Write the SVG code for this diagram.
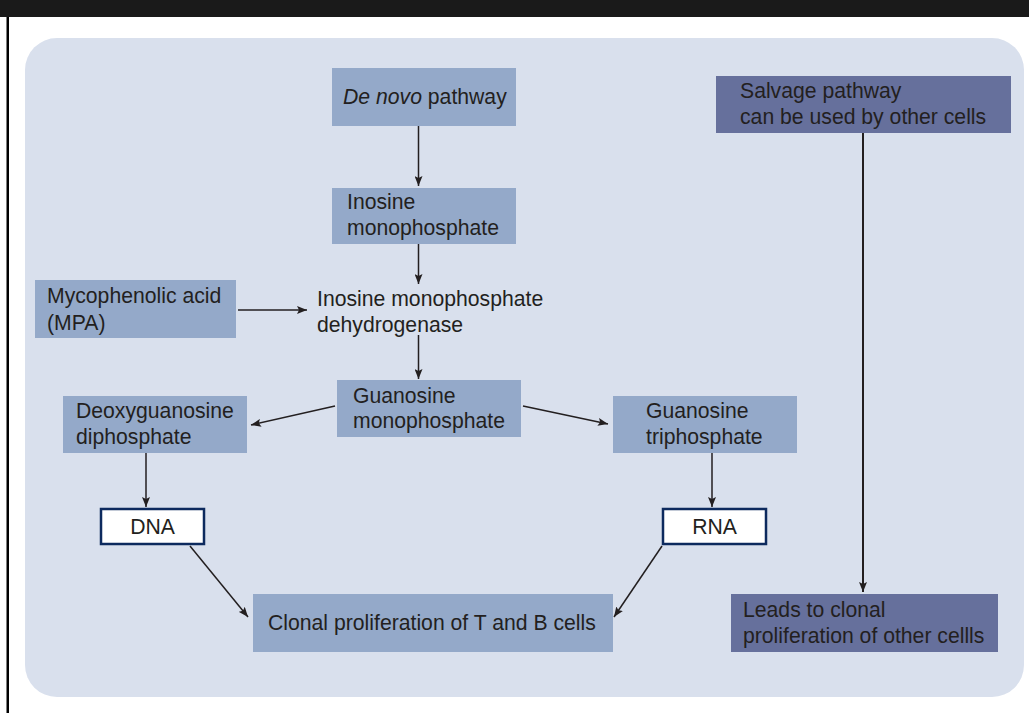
<svg xmlns="http://www.w3.org/2000/svg" width="1029" height="713" viewBox="0 0 1029 713">
<style>
.t{font-family:"Liberation Sans",Arial,sans-serif;font-size:21.2px;fill:#231f20}
.n{fill:#94a9c9}
.s{fill:#66709c}
.w{fill:#ffffff;stroke:#0d2a5e;stroke-width:2.5}
.c{stroke:#231f20;stroke-width:1.5;fill:none;marker-end:url(#ah)}
</style>
<defs>
<marker id="ah" viewBox="0 0 10 8" refX="10" refY="4" markerWidth="10" markerHeight="8" markerUnits="userSpaceOnUse" orient="auto">
<path d="M0,0 L10,4 L0,8 L2,4 Z" fill="#231f20"/>
</marker>
</defs>
<rect x="0" y="0" width="1029" height="713" fill="#ffffff"/>
<rect x="0" y="0" width="1029" height="17" fill="#1a1a1a"/>
<rect x="6.5" y="17" width="2.5" height="696" fill="#000000"/>
<rect x="25" y="38" width="999" height="659" rx="32" ry="32" fill="#d9e0ed"/>

<g id="connectors">
<line class="c" x1="418.5" y1="126" x2="418.5" y2="186"/>
<line class="c" x1="418.5" y1="244" x2="418.5" y2="284"/>
<line class="c" x1="238" y1="310" x2="307" y2="310"/>
<line class="c" x1="418.5" y1="335" x2="418.5" y2="379"/>
<line class="c" x1="335" y1="406" x2="251" y2="425"/>
<line class="c" x1="523" y1="406" x2="608" y2="424"/>
<line class="c" x1="146" y1="453" x2="146" y2="507"/>
<line class="c" x1="712" y1="453" x2="712" y2="507"/>
<line class="c" x1="190" y1="546" x2="248" y2="617"/>
<line class="c" x1="662" y1="546" x2="614" y2="617"/>
<line class="c" x1="863" y1="133" x2="863" y2="592" style="stroke-width:2"/>
</g>

<g id="denovo">
<rect class="n" x="332" y="68" width="184" height="58"/>
<text class="t" x="343" y="104"><tspan font-style="italic">De novo</tspan> pathway</text>
</g>
<g id="imp">
<rect class="n" x="332" y="188" width="184" height="56"/>
<text class="t" x="347" y="209">Inosine</text>
<text class="t" x="347" y="235">monophosphate</text>
</g>
<g id="mpa">
<rect class="n" x="35" y="280" width="201" height="58"/>
<text class="t" x="47" y="303">Mycophenolic acid</text>
<text class="t" x="47" y="330">(MPA)</text>
</g>
<g id="impdh">
<text class="t" x="317" y="306">Inosine monophosphate</text>
<text class="t" x="317" y="332">dehydrogenase</text>
</g>
<g id="gmp">
<rect class="n" x="337" y="380" width="184" height="57"/>
<text class="t" x="353" y="403">Guanosine</text>
<text class="t" x="353" y="428">monophosphate</text>
</g>
<g id="dgdp">
<rect class="n" x="63" y="396" width="184" height="57"/>
<text class="t" x="76" y="418">Deoxyguanosine</text>
<text class="t" x="76" y="444">diphosphate</text>
</g>
<g id="gtp">
<rect class="n" x="613" y="396" width="184" height="57"/>
<text class="t" x="646" y="418">Guanosine</text>
<text class="t" x="646" y="444">triphosphate</text>
</g>
<g id="dna">
<rect class="w" x="101" y="509" width="103" height="35"/>
<text class="t" x="152.5" y="534" text-anchor="middle">DNA</text>
</g>
<g id="rna">
<rect class="w" x="663" y="509" width="103" height="35"/>
<text class="t" x="714.5" y="534" text-anchor="middle">RNA</text>
</g>
<g id="clonal">
<rect class="n" x="253" y="594" width="360" height="58"/>
<text class="t" x="268" y="630">Clonal proliferation of T and B cells</text>
</g>
<g id="salvage">
<rect class="s" x="716" y="76" width="295" height="57"/>
<text class="t" x="740" y="98">Salvage pathway</text>
<text class="t" x="740" y="124">can be used by other cells</text>
</g>
<g id="leads">
<rect class="s" x="731" y="594" width="267" height="58"/>
<text class="t" x="743" y="617">Leads to clonal</text>
<text class="t" x="743" y="643">proliferation of other cellls</text>
</g>
</svg>
